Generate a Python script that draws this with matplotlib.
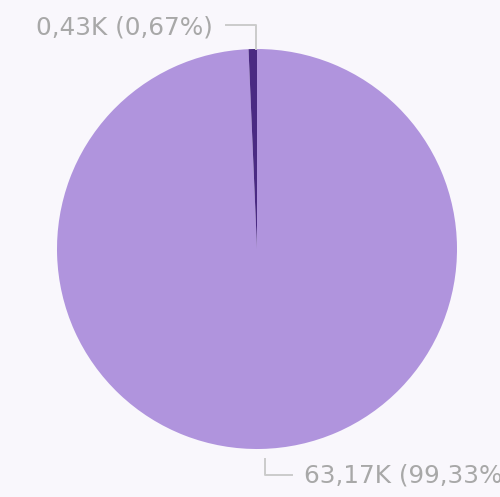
import matplotlib.pyplot as plt
import numpy as np

# values in thousands
labels = ['63,17K (99,33%)', '0,43K (0,67%)']
values = [63.17, 0.43]
colors = ['#b094dd', '#4a2a82']

bg = '#f9f7fc'
fig = plt.figure(figsize=(5.0, 4.97), dpi=100, facecolor=bg)
ax = fig.add_axes([0, 0, 1, 1])
ax.set_facecolor(bg)

cx, cy, r = 257, 248, 200
ax.pie(values, colors=colors, startangle=90, counterclock=False,
       center=(cx, cy), radius=r, wedgeprops=dict(linewidth=0))
ax.set_xlim(0, 500)
ax.set_ylim(0, 497)
ax.set_aspect('equal')
ax.axis('off')

line_c = '#cbcbcb'
text_c = '#a8a8a8'

# small slice: leader goes up from the top of the pie, then left
ax.plot([cx - 1, cx - 1, 226], [cy + r, cy + r + 24, cy + r + 24], color=line_c, lw=1.4)
ax.text(213, cy + r + 22, labels[1], ha='right', va='center', fontsize=17.8, color=text_c)

# large slice: leader goes down from the bottom, then right
ax.plot([265, 265, 292], [cy - r - 10, cy - r - 26, cy - r - 26], color=line_c, lw=1.4)
ax.text(304, cy - r - 27, labels[0], ha='left', va='center', fontsize=17.8, color=text_c)

fig.savefig('out.png', dpi=100, facecolor=bg)
